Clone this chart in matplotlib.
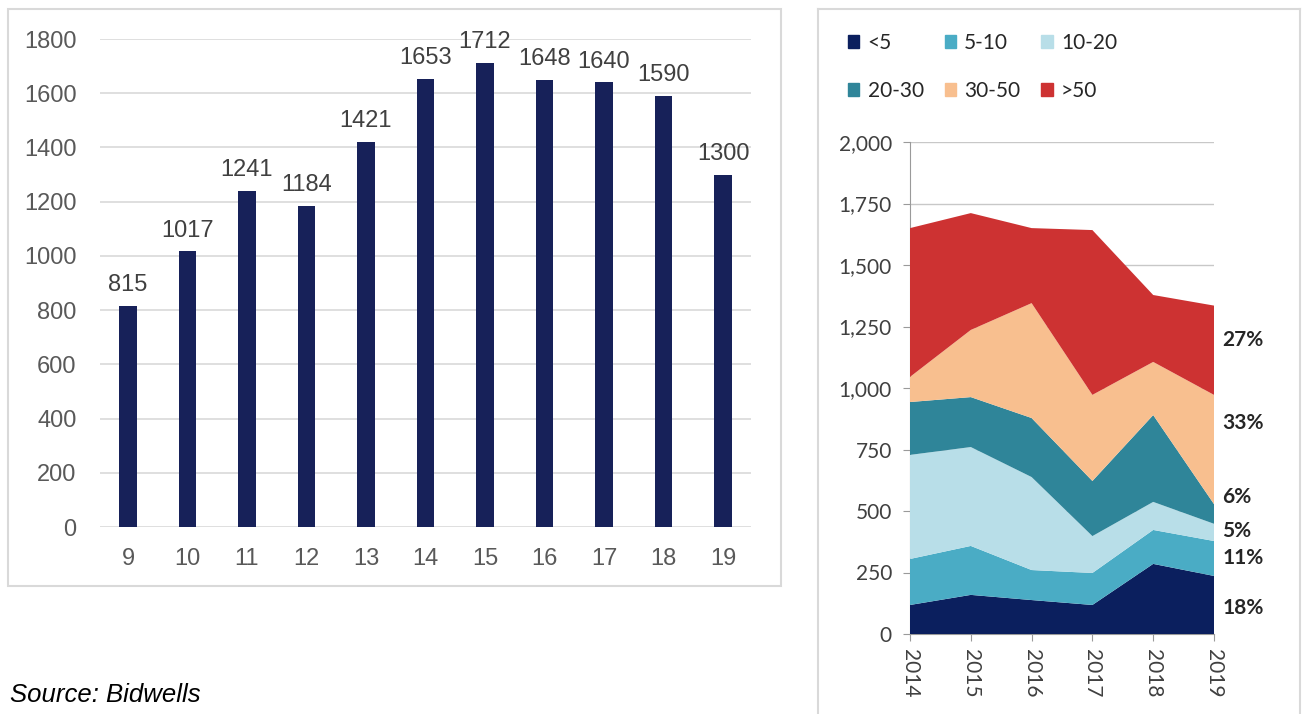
import matplotlib
matplotlib.use("Agg")
import matplotlib.pyplot as plt
from matplotlib.patches import Rectangle
from matplotlib.lines import Line2D
import numpy as np

# left panel: yearly totals
bar_cats = [9, 10, 11, 12, 13, 14, 15, 16, 17, 18, 19]
bar_vals = [815, 1017, 1241, 1184, 1421, 1653, 1712, 1648, 1640, 1590, 1300]

# right panel: stacked by size band
years = [2014, 2015, 2016, 2017, 2018, 2019]
bands = ["<5", "5-10", "10-20", "20-30", "30-50", ">50"]
lt5 = [118, 159, 138, 118, 285, 236]
b5_10 = [187, 199, 122, 130, 138, 142]
b10_20 = [423, 402, 378, 150, 114, 70]
b20_30 = [215, 203, 240, 224, 353, 80]
b30_50 = [102, 273, 467, 350, 216, 444]
gt50 = [605, 475, 305, 670, 272, 363]
share_labels = ["18%", "11%", "5%", "6%", "33%", "27%"]
share_ypos = [106, 309, 419, 557, 858, 1195]

band_colors = ["#0b1f5e", "#4aacc5", "#b8dee8", "#2f8599", "#f8bf8f", "#cd3232"]

W, H = 1303, 714
fig = plt.figure(figsize=(W / 100, H / 100), dpi=100)

def fx(px):
    return px / W

def fy(py):
    return 1 - py / H

# panel frames
fig.patches.append(Rectangle((fx(8), fy(586)), fx(781 - 8), (586 - 9) / H,
                             transform=fig.transFigure, fill=False,
                             edgecolor="#d9d9d9", lw=1.5))
for xs, ys in [([818, 818], [9, 714]), ([818, 1300], [9, 9]), ([1300, 1300], [9, 714])]:
    fig.lines.append(Line2D([fx(x) for x in xs], [fy(y) for y in ys],
                            transform=fig.transFigure, color="#d9d9d9", lw=1.5))

# ---- left bar chart ----
arial = "Liberation Sans"
ax1 = fig.add_axes([fx(100), fy(527), fx(651), 488 / H])
ax1.bar(bar_cats, bar_vals, width=0.3, color="#172159", zorder=3)
ax1.set_xlim(8.53, 19.47)
ax1.set_ylim(0, 1800)
ax1.set_yticks(np.arange(0, 1801, 200))
ax1.set_xticks(bar_cats)
ax1.grid(axis="y", color="#d9d9d9", lw=1.2, zorder=0)
for s in ax1.spines.values():
    s.set_visible(False)
ax1.tick_params(length=0, labelsize=17, labelcolor="#595959")
for lab in ax1.get_xticklabels() + ax1.get_yticklabels():
    lab.set_fontfamily(arial)
ax1.tick_params(axis="y", pad=17)
ax1.tick_params(axis="x", pad=15)
for x, v in zip(bar_cats, bar_vals):
    ax1.annotate(str(v), (x, v), xytext=(0, 7), textcoords="offset points",
                 ha="center", va="bottom", fontsize=17, color="#404040",
                 family=arial, clip_on=False)

fig.text(fx(10), fy(695), "Source: Bidwells", fontsize=18.5, style="italic",
         family=arial, va="center", ha="left", color="#000000")

# ---- right stacked area chart ----
lato = "Lato"
ax2 = fig.add_axes([fx(910), fy(634), fx(304), 492 / H])
series = [lt5, b5_10, b10_20, b20_30, b30_50, gt50]
ax2.stackplot(years, *series, colors=band_colors, labels=bands, zorder=3, lw=0)
ax2.set_xlim(2014, 2019)
ax2.set_ylim(0, 2000)
ax2.set_yticks(np.arange(0, 2001, 250))
ax2.set_yticklabels([f"{v:,}" for v in range(0, 2001, 250)])
ax2.set_xticks(years)
ax2.set_xticklabels([str(y) for y in years], rotation=-90)
ax2.grid(axis="y", color="#c8c8c8", lw=1.0, zorder=0)
ax2.spines["top"].set_visible(False)
ax2.spines["right"].set_visible(False)
ax2.spines["left"].set_color("#9a9a9a")
ax2.spines["bottom"].set_color("#9a9a9a")
ax2.tick_params(length=5, color="#9a9a9a", labelsize=15, labelcolor="#404040")
ax2.tick_params(axis="y", pad=8)
ax2.tick_params(axis="x", pad=6)
for lab in ax2.get_xticklabels() + ax2.get_yticklabels():
    lab.set_fontfamily(lato)

for txt, yv in zip(share_labels, share_ypos):
    ax2.annotate(txt, (2019, yv), xytext=(6, 0), textcoords="offset points",
                 ha="left", va="center", fontsize=15, fontweight="bold",
                 color="#262626", family=lato, annotation_clip=False)

# legend in two rows of three; matplotlib fills columns first
order = [0, 3, 1, 4, 2, 5]
handles = [Rectangle((0, 0), 1, 1, color=band_colors[i]) for i in order]
leg = fig.legend(handles, [bands[i] for i in order], loc="upper left",
                 bbox_to_anchor=(fx(829), fy(14)), ncol=3, frameon=False,
                 handlelength=0.55, handleheight=0.55, handletextpad=0.4,
                 columnspacing=1.0, labelspacing=1.35,
                 prop={"family": lato, "size": 15})
for t in leg.get_texts():
    t.set_color("#262626")

fig.savefig("out.png", dpi=100)
